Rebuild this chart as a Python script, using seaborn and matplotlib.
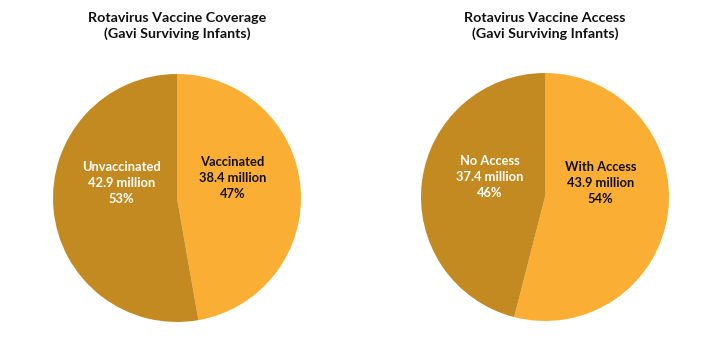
import matplotlib
matplotlib.use("Agg")
import matplotlib.pyplot as plt
import seaborn as sns
import numpy as np

sns.set_theme(style="white")
plt.rcParams['font.family'] = ['Lato', 'DejaVu Sans']

titles = ["Rotavirus Vaccine Coverage\n(Gavi Surviving Infants)",
          "Rotavirus Vaccine Access\n(Gavi Surviving Infants)"]
labels_left = ["Vaccinated", "Unvaccinated"]
values_left = [38.4, 42.9]
pct_left = [47, 53]
labels_right = ["With Access", "No Access"]
values_right = [43.9, 37.4]
pct_right = [54, 46]

colors = ["#FBAE34", "#C48A22"]
text_colors = ["#111111", "white"]

fig = plt.figure(figsize=(7.11, 3.49), dpi=100)
W, H = 711, 349
R = 124

def draw(cx, cy, title, labels, values, pcts):
    ax = fig.add_axes([(cx - R) / W, (H - cy - R) / H, 2 * R / W, 2 * R / H])
    wedges, _ = ax.pie(values, colors=colors, startangle=90, counterclock=False,
                       wedgeprops=dict(linewidth=0))
    for w, lab, v, p, tc in zip(wedges, labels, values, pcts, text_colors):
        mid = np.deg2rad((w.theta1 + w.theta2) / 2)
        x = 0.45 * np.cos(mid)
        y = 0.14 + 0.2 * np.sin(mid)
        ax.text(x, y, f"{lab}\n{v} million\n{p}%", ha="center", va="center",
                color=tc, fontsize=9.3, fontweight="bold", linespacing=1.4)
    ax.set_xlim(-1, 1)
    ax.set_ylim(-1, 1)
    ax.set_aspect("equal")
    ax.axis("off")
    fig.text(cx / W, 1 - 26 / H, title, ha="center", va="center",
             fontsize=10.3, fontweight="bold", color="#111111", linespacing=1.4)

draw(177, 198, titles[0], labels_left, values_left, pct_left)
draw(545, 197, titles[1], labels_right, values_right, pct_right)

fig.savefig("out.png", dpi=100, facecolor="white")
